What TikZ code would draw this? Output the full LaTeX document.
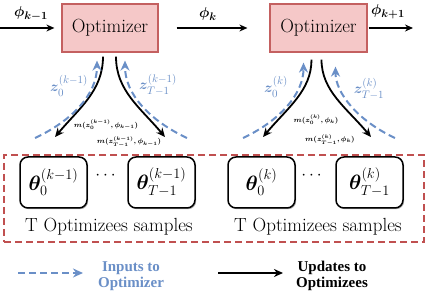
\documentclass[tikz,border=0pt]{standalone}
\usepackage{amsmath, amssymb, bm}
\usepackage{fontspec}
\newfontfamily\legendfont{Liberation Serif}
\usepackage{xcolor}
\usepackage{tikz}
\usetikzlibrary{arrows.meta, positioning, shadows}

\definecolor{optfill}{RGB}{245,200,200}
\definecolor{optdraw}{RGB}{196,96,96}
\definecolor{inblue}{RGB}{106,143,199}
\definecolor{boxred}{RGB}{192,80,80}

\begin{document}
\begin{tikzpicture}[x=1pt, y=1pt,
    optbox/.style={rectangle, draw=optdraw, line width=1.2pt, fill=optfill, minimum width=96pt, minimum height=48pt, font=\fontsize{19}{21}\selectfont},
    sample/.style={rectangle, rounded corners=8pt, draw, line width=1.5pt, fill=white, minimum width=67pt, minimum height=51pt, font=\fontsize{20}{22}\selectfont, drop shadow={shadow xshift=1.2pt, shadow yshift=-1.2pt, opacity=0.6}},
    flow/.style={-{Stealth[length=8pt, width=7pt]}, line width=1.3pt},
    update/.style={-{Stealth[length=9pt, width=8pt]}, line width=1.8pt},
    input/.style={-{Stealth[length=10pt, width=9pt]}, line width=2pt, inblue, dash pattern=on 7pt off 4pt},
    zlab/.style={text=inblue, font=\fontsize{15.5}{17}\selectfont},
    mlab/.style={font=\fontsize{7}{8}\selectfont},
    leg/.style={align=center, font=\legendfont\bfseries\fontsize{15}{16}\selectfont}
]
\useasboundingbox (0,0) rectangle (426,292);

% optimizer boxes
\node[optbox] (opt1) at (110,264) {Optimizer};
\node[optbox, minimum width=97pt] (opt2) at (318.5,264) {Optimizer};

\coordinate (start) at (0,264);
\coordinate (finish) at (413,264);
\draw[flow, shorten >=7pt] (start) -- (opt1.west);
\draw[flow, shorten <=18pt, shorten >=22pt] (opt1.east) -- (opt2.west);
\draw[flow, shorten <=1pt] (opt2.east) -- (finish);

\node (phi1) at (31,278) {\fontsize{15}{16}\selectfont$\bm{\phi_{k-1}}$};
\node (phi2) at (208,278) {\fontsize{15}{16}\selectfont$\bm{\phi_{k}}$};
\node (phi3) at (388,280) {\fontsize{15}{16}\selectfont$\bm{\phi_{k+1}}$};

% samples box
\node[draw=boxred, dash pattern=on 7pt off 4pt, line width=1.8pt, minimum width=420pt, minimum height=87pt] (pool) at (214,93.5) {};

\node[sample] (th1a) at (53.5,109.5) {$\bm{\theta}_0^{(k-1)}$};
\node[sample] (th1b) at (161.5,109.5) {$\bm{\theta}_{T-1}^{(k-1)}$};
\node[sample] (th2a) at (261.5,109.5) {$\bm{\theta}_0^{(k)}$};
\node[sample] (th2b) at (369.5,109.5) {$\bm{\theta}_{T-1}^{(k)}$};
\node[font=\fontsize{16}{18}\selectfont] (dots1) at (107,116) {$\cdots$};
\node[font=\fontsize{16}{18}\selectfont] (dots2) at (313,116) {$\cdots$};
\node[font=\fontsize{19}{21}\selectfont] (samp1) at (109,65) {T Optimizees samples};
\node[font=\fontsize{19}{21}\selectfont] (samp2) at (318,65) {T Optimizees samples};

% curves, step k-1
\coordinate (u1a) at (55,155);
\coordinate (u1b) at (165,155);
\coordinate (i1a) at (35,154);
\coordinate (i1b) at (187,154);
\draw[update, shorten <=4pt] ([xshift=-7pt]opt1.south) to[out=-90, in=50] (u1a);
\draw[update, shorten <=4pt] ([xshift=6pt]opt1.south) to[out=-90, in=130] (u1b);
\draw[input, shorten >=8pt] (i1a) to[out=25, in=-90] ([xshift=-13pt]opt1.south);
\draw[input, shorten >=8pt] (i1b) to[out=155, in=-90] ([xshift=15pt]opt1.south);

\node[zlab] (z1a) at (69,206) {$\bm{z}_0^{(k-1)}$};
\node[zlab] (z1b) at (158,207) {$\bm{z}_{T-1}^{(k-1)}$};
\node[mlab] (m1a) at (106,167) {$\bm{m(z_0^{(k-1)},\phi_{k-1})}$};
\node[mlab] (m1b) at (129,150) {$\bm{m(z_{T-1}^{(k-1)},\phi_{k-1})}$};

% curves, step k
\coordinate (u2a) at (263,155);
\coordinate (u2b) at (371,155);
\coordinate (i2a) at (243,154);
\coordinate (i2b) at (395,154);
\draw[update, shorten <=7pt] ([xshift=-7pt]opt2.south) to[out=-90, in=50] (u2a);
\draw[update, shorten <=7pt] ([xshift=3pt]opt2.south) to[out=-90, in=130] (u2b);
\draw[input, shorten >=10pt] (i2a) to[out=25, in=-90] ([xshift=-15pt]opt2.south);
\draw[input, shorten >=14pt] (i2b) to[out=155, in=-90] ([xshift=17pt]opt2.south);

\node[zlab] (z2a) at (276,205) {$\bm{z}_0^{(k)}$};
\node[zlab] (z2b) at (369,203) {$\bm{z}_{T-1}^{(k)}$};
\node[mlab] (m2a) at (316,172) {$\bm{m(z_0^{(k)},\phi_{k})}$};
\node[mlab] (m2b) at (330,152) {$\bm{m(z_{T-1}^{(k)},\phi_{k})}$};

% legend
\coordinate (l1s) at (18,19);
\coordinate (l1e) at (83,19);
\coordinate (l2s) at (218,19);
\coordinate (l2e) at (283,19);
\draw[input] (l1s) -- (l1e);
\draw[update] (l2s) -- (l2e);
\node[leg, text=inblue] (leg1) at (131,16) {Inputs to\\Optimizer};
\node[leg] (leg2) at (332,16) {Updates to\\Optimizees};

\end{tikzpicture}
\end{document}
